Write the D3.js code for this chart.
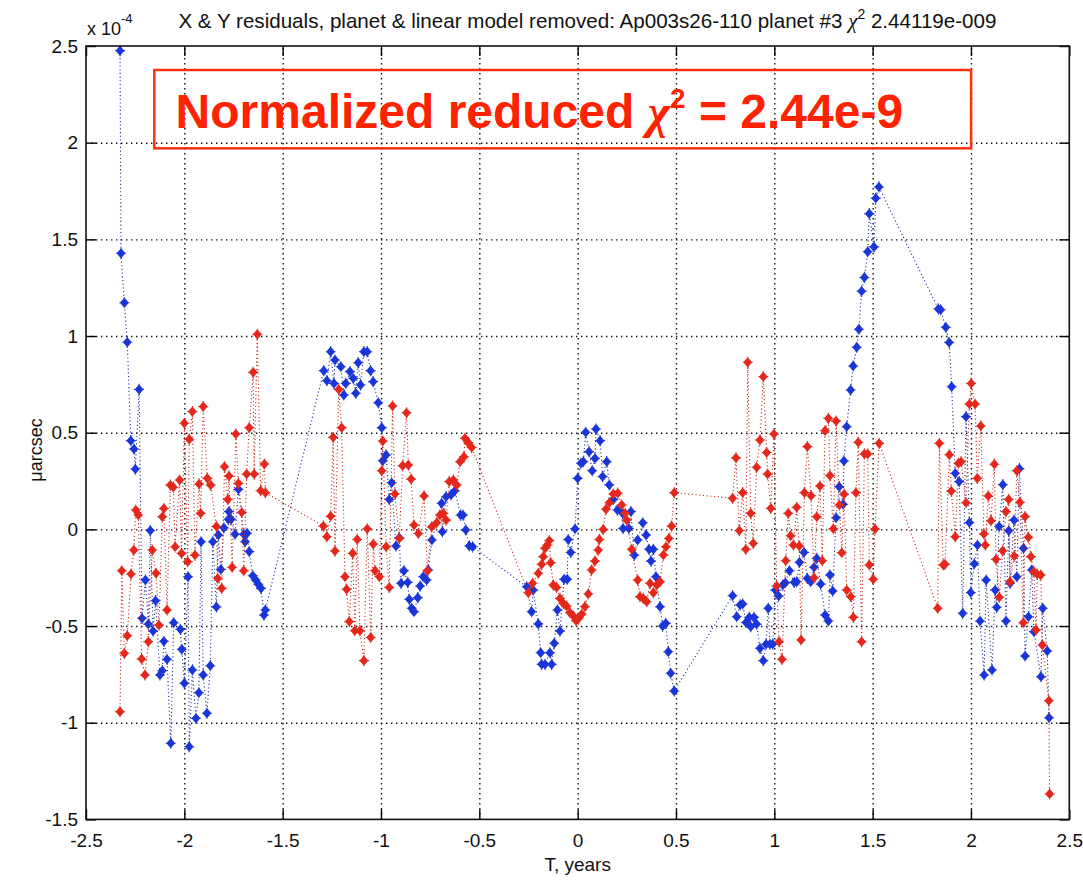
<!DOCTYPE html>
<html><head><meta charset="utf-8">
<script src="https://cdn.jsdelivr.net/npm/d3@7"></script>
<style>body{margin:0;background:#fff} svg{display:block} text{font-family:"Liberation Sans",Arial,sans-serif}</style>
</head><body><svg id="c" width="1083" height="880"></svg>
<script>
const xTicks=[-2.5,-2,-1.5,-1,-0.5,0,0.5,1,1.5,2,2.5];
const yTicks=[-1.5,-1,-0.5,0,0.5,1,1.5,2,2.5];
const titleMain="X & Y residuals, planet & linear model removed: Ap003s26-110 planet #3 ";
const titleValue=" 2.44119e-009";
const boxLabel="Normalized reduced ";
const boxValue=" = 2.44e-9";
const xLabel="T, years", yLabel="\u03bcarcsec", scaleLabel="x 10", scaleExp="-4";

// X residuals (blue) : [T years, value x1e-4]
const blueXY=[[-2.327,2.476],[-2.322,1.428],[-2.305,1.172],[-2.290,0.968],[-2.272,0.459],[-2.256,0.416],[-2.249,0.312],[-2.230,0.724],[-2.215,-0.460],[-2.198,-0.262],[-2.183,-0.490],[-2.173,-0.006],[-2.159,-0.526],[-2.146,-0.369],[-2.124,-0.753],[-2.112,-0.731],[-2.104,-0.579],[-2.088,-0.672],[-2.069,-1.106],[-2.054,-0.483],[-2.020,-0.517],[-2.013,-0.620],[-2.000,-0.796],[-1.981,-0.245],[-1.975,-1.124],[-1.959,-0.727],[-1.941,-0.977],[-1.926,-0.845],[-1.915,-0.064],[-1.904,-0.753],[-1.885,-0.951],[-1.868,-0.705],[-1.855,-0.064],[-1.837,-0.401],[-1.827,-0.029],[-1.814,-0.207],[-1.799,0.008],[-1.776,0.052],[-1.773,0.092],[-1.762,0.052],[-1.742,-0.025],[-1.725,0.207],[-1.698,-0.025],[-1.691,-0.064],[-1.681,-0.020],[-1.670,-0.115],[-1.652,-0.240],[-1.637,-0.262],[-1.624,-0.284],[-1.610,-0.305],[-1.595,-0.443],[-1.588,-0.417],
[-1.291,0.821],[-1.275,0.769],[-1.256,0.919],[-1.239,0.755],[-1.234,0.876],[-1.204,0.841],[-1.189,0.695],[-1.179,0.755],[-1.158,0.816],[-1.141,0.781],[-1.128,0.704],[-1.116,0.862],[-1.104,0.747],[-1.087,0.919],[-1.070,0.919],[-1.053,0.821],[-1.040,0.764],[-1.014,0.655],[-0.996,0.526],[-0.991,0.355],[-0.974,0.385],[-0.958,0.155],[-0.946,0.241],[-0.924,-0.086],[-0.907,-0.043],[-0.898,-0.279],[-0.883,-0.214],[-0.864,-0.274],[-0.856,-0.362],[-0.844,-0.408],[-0.832,-0.426],[-0.813,-0.353],[-0.801,-0.293],[-0.785,-0.245],[-0.768,-0.262],[-0.760,-0.210],[-0.741,-0.055],[-0.692,0.135],[-0.688,-0.012],[-0.669,0.169],[-0.644,0.178],[-0.624,0.200],[-0.595,0.074],[-0.583,0.074],[-0.569,-0.003],[-0.551,-0.086],[-0.534,-0.090],
[-0.259,-0.297],[-0.234,-0.426],[-0.226,-0.314],[-0.200,-0.489],[-0.188,-0.638],[-0.183,-0.698],[-0.166,-0.698],[-0.141,-0.638],[-0.132,-0.698],[-0.119,-0.589],[-0.103,-0.417],[-0.090,-0.526],[-0.069,-0.258],[-0.053,-0.258],[-0.048,-0.053],[-0.035,-0.119],[-0.013,0.003],[0.000,0.264],[0.017,0.342],[0.029,0.350],[0.041,0.502],[0.058,0.402],[0.074,0.303],[0.088,0.367],[0.093,0.519],[0.114,0.459],[0.127,0.273],[0.148,0.350],[0.161,0.230],[0.181,0.155],[0.202,0.100],[0.229,0.083],[0.231,0.005],[0.260,0.005],[0.271,0.092],[0.288,-0.133],[0.305,-0.055],[0.331,0.034],[0.348,-0.029],[0.363,-0.103],[0.373,-0.164],[0.385,-0.103],[0.398,-0.245],[0.419,-0.400],[0.432,-0.500],[0.448,-0.486],[0.461,-0.633],[0.473,-0.744],[0.491,-0.836],
[0.788,-0.343],[0.809,-0.452],[0.826,-0.391],[0.839,-0.386],[0.856,-0.481],[0.873,-0.455],[0.880,-0.503],[0.897,-0.455],[0.910,-0.490],[0.927,-0.615],[0.944,-0.679],[0.958,-0.594],[0.969,-0.408],[0.978,-0.594],[0.992,-0.594],[1.005,-0.314],[1.022,-0.345],[1.043,-0.288],[1.056,-0.276],[1.077,-0.214],[1.101,-0.274],[1.114,-0.271],[1.128,-0.170],[1.151,-0.119],[1.168,-0.253],[1.185,-0.271],[1.202,-0.196],[1.216,-0.150],[1.236,-0.283],[1.258,-0.443],[1.275,-0.474],[1.283,-0.236],[1.297,-0.319],[1.314,0.060],[1.330,0.221],[1.350,0.130],[1.354,0.354],[1.368,0.531],[1.388,0.721],[1.401,0.845],[1.419,0.942],[1.430,1.035],[1.444,1.232],[1.458,1.303],[1.475,1.436],[1.483,1.633],[1.507,1.461],[1.516,1.713],[1.532,1.771],
[1.834,1.140],[1.846,1.136],[1.872,1.045],[1.889,0.967],[1.902,0.738],[1.920,0.290],[1.940,0.247],[1.958,-0.434],[1.975,0.583],[1.992,0.035],[1.999,-0.327],[2.017,-0.178],[2.033,-0.081],[2.046,-0.474],[2.067,-0.753],[2.077,-0.262],[2.107,-0.727],[2.123,-0.314],[2.131,-0.403],[2.143,0.015],[2.162,0.231],[2.178,-0.474],[2.192,-0.007],[2.199,-0.279],[2.219,0.048],[2.233,-0.245],[2.246,0.314],[2.267,-0.098],[2.275,-0.655],[2.292,-0.452],[2.309,-0.210],[2.320,-0.529],[2.356,-0.762],[2.365,-0.408],[2.388,-0.629],[2.397,-0.974]];

// Y residuals (red)
const redXY=[[-2.327,-0.943],[-2.318,-0.214],[-2.305,-0.641],[-2.290,-0.550],[-2.271,-0.231],[-2.257,-0.107],[-2.247,0.100],[-2.234,0.074],[-2.217,-0.670],[-2.200,-0.753],[-2.183,-0.581],[-2.163,-0.107],[-2.144,-0.227],[-2.129,-0.495],[-2.112,0.065],[-2.104,0.108],[-2.088,-0.417],[-2.071,0.229],[-2.056,0.218],[-2.047,-0.090],[-2.024,0.255],[-2.014,-0.124],[-2.000,0.549],[-1.983,-0.167],[-1.975,0.466],[-1.959,0.609],[-1.946,-0.133],[-1.925,0.235],[-1.917,0.083],[-1.904,0.635],[-1.883,0.264],[-1.866,0.229],[-1.837,0.015],[-1.830,-0.253],[-1.810,-0.305],[-1.796,0.324],[-1.779,0.155],[-1.773,0.276],[-1.757,-0.196],[-1.738,0.493],[-1.725,0.238],[-1.708,0.088],[-1.698,-0.214],[-1.683,0.286],[-1.670,0.526],[-1.650,0.812],[-1.645,0.286],[-1.629,1.009],[-1.612,0.200],[-1.593,0.338],[-1.588,0.190],
[-1.293,0.017],[-1.275,-0.038],[-1.256,0.068],[-1.243,0.476],[-1.234,-0.112],[-1.215,0.724],[-1.200,0.526],[-1.183,-0.245],[-1.175,-0.310],[-1.161,-0.477],[-1.144,-0.124],[-1.133,-0.524],[-1.121,-0.052],[-1.107,-0.524],[-1.087,-0.679],[-1.070,0.003],[-1.052,-0.559],[-1.039,-0.076],[-1.030,-0.214],[-1.008,-0.245],[-0.996,0.303],[-0.991,0.457],[-0.974,-0.090],[-0.958,-0.300],[-0.941,0.638],[-0.929,0.183],[-0.907,-0.047],[-0.890,0.329],[-0.870,0.603],[-0.861,0.333],[-0.847,0.260],[-0.832,0.022],[-0.810,-0.021],[-0.781,0.173],[-0.764,-0.214],[-0.742,0.013],[-0.717,0.034],[-0.700,0.074],[-0.683,0.083],[-0.669,0.048],[-0.653,0.247],[-0.632,0.255],[-0.615,0.229],[-0.598,0.350],[-0.578,0.376],[-0.573,0.471],[-0.556,0.448],[-0.539,0.424],
[-0.251,-0.328],[-0.229,-0.279],[-0.200,-0.227],[-0.183,-0.181],[-0.175,-0.141],[-0.166,-0.098],[-0.154,-0.081],[-0.144,-0.058],[-0.137,-0.172],[-0.124,-0.288],[-0.107,-0.300],[-0.090,-0.357],[-0.073,-0.383],[-0.056,-0.397],[-0.039,-0.431],[-0.022,-0.448],[-0.008,-0.472],[0.005,-0.460],[0.021,-0.438],[0.037,-0.400],[0.054,-0.334],[0.071,-0.210],[0.088,-0.164],[0.105,-0.107],[0.110,-0.052],[0.130,0.000],[0.144,0.104],[0.161,0.138],[0.181,0.183],[0.204,0.187],[0.224,0.126],[0.242,0.083],[0.249,0.048],[0.275,-0.103],[0.305,-0.262],[0.317,-0.348],[0.334,-0.357],[0.351,-0.374],[0.368,-0.279],[0.385,-0.328],[0.402,-0.288],[0.419,-0.271],[0.436,-0.133],[0.449,-0.090],[0.464,-0.047],[0.478,0.017],[0.491,0.190],
[0.788,0.161],[0.805,0.370],[0.822,-0.006],[0.839,0.190],[0.855,-0.103],[0.865,0.864],[0.880,0.083],[0.893,-0.072],[0.910,0.321],[0.927,0.462],[0.944,0.790],[0.961,0.397],[0.966,0.286],[0.982,0.109],[0.998,0.493],[1.012,-0.293],[1.024,-0.581],[1.039,-0.672],[1.058,-0.162],[1.071,0.083],[1.083,-0.033],[1.097,-0.081],[1.114,0.114],[1.127,-0.086],[1.136,-0.572],[1.153,0.190],[1.168,0.428],[1.187,0.174],[1.202,-0.250],[1.216,0.065],[1.232,0.224],[1.244,-0.162],[1.258,0.510],[1.275,0.574],[1.283,0.278],[1.300,0.003],[1.314,0.560],[1.331,0.126],[1.343,-0.121],[1.355,0.182],[1.368,-0.314],[1.389,-0.348],[1.402,-0.455],[1.415,0.190],[1.427,0.450],[1.444,-0.581],[1.458,0.390],[1.475,0.390],[1.483,-0.184],[1.503,-0.258],[1.512,0.002],[1.533,0.445],
[1.831,-0.408],[1.839,0.445],[1.859,-0.184],[1.868,-0.181],[1.890,0.386],[1.900,0.198],[1.920,-0.038],[1.936,0.342],[1.950,0.350],[1.975,0.138],[1.992,0.648],[2.001,0.755],[2.021,0.648],[2.032,0.264],[2.050,0.535],[2.066,-0.024],[2.073,-0.081],[2.088,0.173],[2.102,0.045],[2.119,0.337],[2.127,-0.155],[2.144,-0.351],[2.161,-0.111],[2.178,0.092],[2.192,0.155],[2.198,-0.271],[2.220,-0.138],[2.233,0.303],[2.249,0.140],[2.266,-0.483],[2.275,0.066],[2.292,-0.041],[2.305,-0.141],[2.320,-0.219],[2.331,-0.520],[2.337,-0.231],[2.355,-0.236],[2.363,-0.598],[2.396,-0.886],[2.400,-1.368]];

const W=1083,H=880;
const L=86,R=1069.3,T=46,B=819.4;
const x=d3.scaleLinear().domain([xTicks[0],xTicks[xTicks.length-1]]).range([L,R]);
const y=d3.scaleLinear().domain([yTicks[0],yTicks[yTicks.length-1]]).range([B,T]);
const svg=d3.select("#c");
svg.append("rect").attr("width",W).attr("height",H).attr("fill","#fff");

// grid
const gridStyle=s=>s.call(g=>g.select(".domain").remove())
  .call(g=>g.selectAll(".tick line").attr("stroke","#111").attr("stroke-width",1.4).attr("stroke-dasharray","1.4,3.6"))
  .call(g=>g.selectAll(".tick text").remove());
svg.append("g").attr("transform",`translate(0,${B})`)
  .call(d3.axisBottom(x).tickValues(xTicks.slice(1,-1)).tickSize(-(B-T)).tickSizeOuter(0)).call(gridStyle);
svg.append("g").attr("transform",`translate(${L},0)`)
  .call(d3.axisLeft(y).tickValues(yTicks.slice(1,-1)).tickSize(-(R-L)).tickSizeOuter(0)).call(gridStyle);

// annotation box
svg.append("rect").attr("x",154.3).attr("y",70).attr("width",816.8).attr("height",78.3)
  .attr("fill","none").attr("stroke","#ff3010").attr("stroke-width",2.5);
const bt=svg.append("text").attr("x",175.6).attr("y",128).attr("fill","#ff2200")
  .attr("font-weight","bold").attr("font-size",48);
bt.append("tspan").text(boxLabel);
bt.append("tspan").attr("font-family","'Liberation Serif',serif").attr("font-style","italic").text("\u03c7");
bt.append("tspan").attr("font-size",28).attr("dy",-20).text("2");
bt.append("tspan").attr("dy",20).text(boxValue);

// series
const line=d3.line().x(d=>x(d[0])).y(d=>y(d[1]));
const marker="M0,-4.3L3.7,0L0,4.3L-3.7,0Z M0,-5.6V5.6 M-5,0H5";
function drawSeries(data,lineColor,markColor){
  svg.append("path").datum(data).attr("d",line).attr("fill","none")
    .attr("stroke",lineColor).attr("stroke-width",1.1).attr("stroke-dasharray","1.1,2.6");
  svg.append("g").selectAll("path").data(data).join("path")
    .attr("transform",d=>`translate(${x(d[0])},${y(d[1])})`)
    .attr("d",marker).attr("fill",markColor).attr("stroke",markColor).attr("stroke-width",1.1);
}
drawSeries(blueXY,"#1c2a9c","#1a36d8");
drawSeries(redXY,"#c8261c","#e4281c");

// axes (inward ticks on all sides)
const axStyle=s=>s.call(g=>g.select(".domain").remove())
  .call(g=>g.selectAll(".tick line").attr("stroke","#000").attr("stroke-width",1.4))
  .call(g=>g.selectAll(".tick text").attr("fill","#111").attr("font-size",19).attr("font-family","'Liberation Sans',Arial,sans-serif"));
const fmt=d=>String(d);
svg.append("g").attr("transform",`translate(0,${B})`)
  .call(d3.axisBottom(x).tickValues(xTicks).tickFormat(fmt).tickSize(-10).tickPadding(14).tickSizeOuter(0)).call(axStyle);
svg.append("g").attr("transform",`translate(${L},0)`)
  .call(d3.axisLeft(y).tickValues(yTicks).tickFormat(fmt).tickSize(-10).tickPadding(8).tickSizeOuter(0)).call(axStyle);
svg.append("g").attr("transform",`translate(0,${T})`)
  .call(d3.axisTop(x).tickValues(xTicks).tickFormat("").tickSize(-10).tickSizeOuter(0)).call(axStyle);
svg.append("g").attr("transform",`translate(${R},0)`)
  .call(d3.axisRight(y).tickValues(yTicks).tickFormat("").tickSize(-10).tickSizeOuter(0)).call(axStyle);
svg.append("rect").attr("x",L).attr("y",T).attr("width",R-L).attr("height",B-T)
  .attr("fill","none").attr("stroke","#111").attr("stroke-width",1.6);

// title
const tt=svg.append("text").attr("x",178.4).attr("y",28).attr("font-size",20.6).attr("fill","#111");
tt.append("tspan").text(titleMain);
tt.append("tspan").attr("font-family","'Liberation Serif',serif").attr("font-style","italic").attr("font-size",21).text("\u03c7");
tt.append("tspan").attr("font-size",14).attr("dy",-9).text("2");
tt.append("tspan").attr("dy",9).text(titleValue);

// exponent label
const ex=svg.append("text").attr("x",87).attr("y",35).attr("font-size",18).attr("fill","#111");
ex.append("tspan").text(scaleLabel);
ex.append("tspan").attr("font-size",13).attr("dy",-12).text(scaleExp);

// axis labels
svg.append("text").attr("x",(L+R)/2).attr("y",871).attr("text-anchor","middle").attr("font-size",19).attr("fill","#111").text(xLabel);
svg.append("text").attr("transform","translate(42,450) rotate(-90)").attr("text-anchor","middle").attr("font-size",18).attr("fill","#111").text(yLabel);
</script></body></html>
